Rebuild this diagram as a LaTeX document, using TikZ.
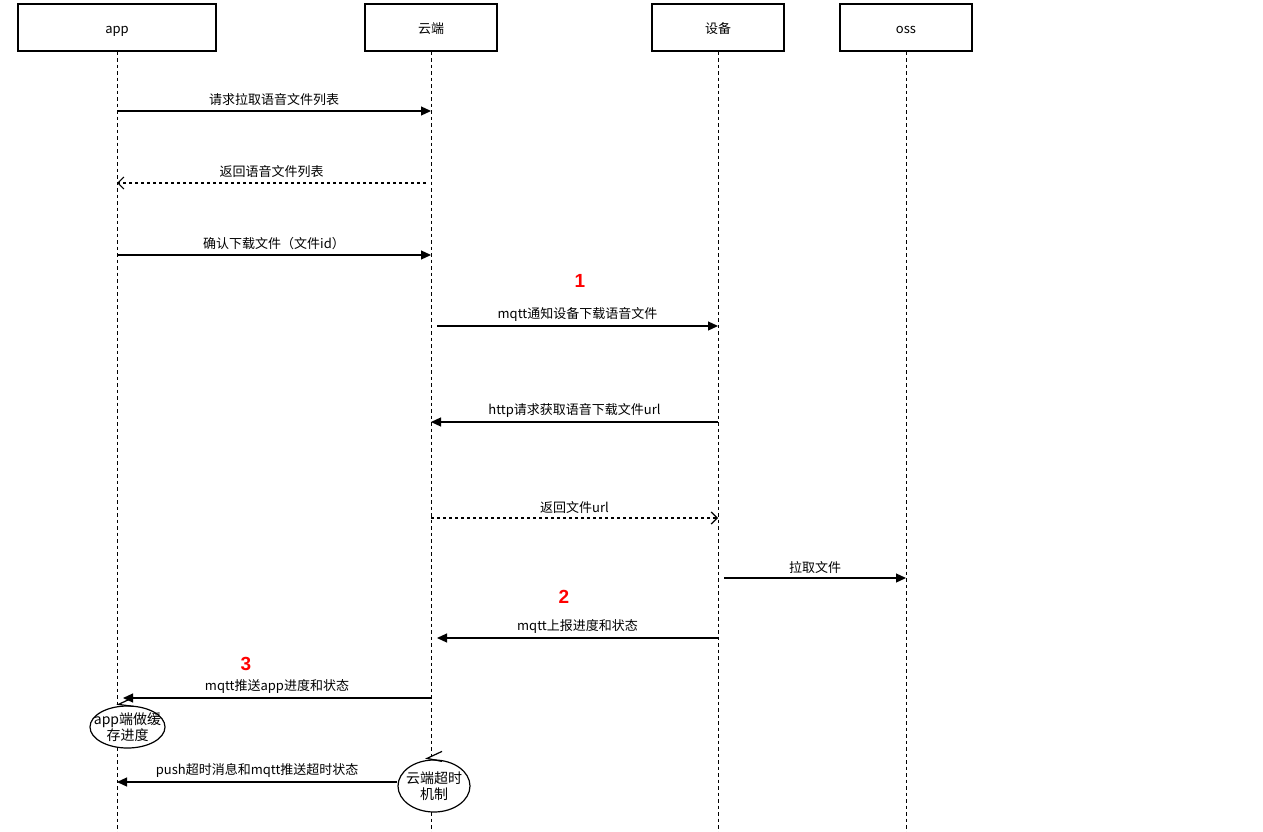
\documentclass[tikz,border=0pt]{standalone}
\usepackage{fontspec}
\newfontfamily\cjk{Noto Sans CJK SC}
\newfontfamily\badgefont{Liberation Sans Bold}
\usetikzlibrary{arrows.meta,shapes.geometric}
\begin{document}
\begin{tikzpicture}[x=1pt,y=-1pt,line width=1.2pt,
  font=\cjk\fontsize{13}{15}\selectfont,
  head/.style={draw,minimum width=132pt,minimum height=47pt,inner sep=0pt,text height=12pt,text depth=0pt},
  life/.style={line width=1pt,dash pattern=on 3.5pt off 3pt},
  msg/.style={-{Triangle[length=10pt,width=9pt]}},
  reply/.style={-{Straight Barb[length=6pt,width=12pt]},dash pattern=on 3pt off 3pt},
  ctrl/.style={draw,fill=white,ellipse,inner sep=0pt},
  ctrltext/.style={align=center,inner sep=0pt,font=\cjk\fontsize{14}{16}\selectfont},
  badge/.style={text=red,font=\badgefont\fontsize{19}{19}\selectfont},
  lbl/.style={midway,above=1pt}]
  \useasboundingbox (0,0) rectangle (1263,832);
  % lifelines
  \node[head,minimum width=198pt] (app) at (117,27.5) {app};
  \node[head] (cloud) at (431,27.5) {云端};
  \node[head] (dev) at (718,27.5) {设备};
  \node[head] (oss) at (906,27.5) {oss};
  \foreach \n in {app,cloud,dev,oss}
    \draw[life] (\n.south) -- (\n.south |- 0,832);
  % messages
  \draw[msg] (app.south |- 0,111) -- (cloud.south |- 0,111) node[lbl] {请求拉取语音文件列表};
  \draw[reply] ([xshift=-5pt]cloud.south |- 0,183) -- (app.south |- 0,183) node[lbl] {返回语音文件列表};
  \draw[msg] (app.south |- 0,255) -- (cloud.south |- 0,255) node[lbl] {确认下载文件（文件id）};
  \node[badge] (b1) at (580,281) {1};
  \draw[msg] ([xshift=6pt]cloud.south |- 0,326) -- (dev.south |- 0,326) node[lbl] {mqtt通知设备下载语音文件};
  \draw[msg] (dev.south |- 0,422) -- (cloud.south |- 0,422) node[lbl] {http请求获取语音下载文件url};
  \draw[reply] (cloud.south |- 0,518) -- (dev.south |- 0,518) node[lbl] {返回文件url};
  \draw[msg] ([xshift=6pt]dev.south |- 0,578) -- (oss.south |- 0,578) node[lbl] {拉取文件};
  \node[badge] (b2) at (564,597) {2};
  \draw[msg] (dev.south |- 0,638) -- ([xshift=6pt]cloud.south |- 0,638) node[lbl] {mqtt上报进度和状态};
  \node[badge] (b3) at (246,664) {3};
  % controls
  \node[ctrl,minimum width=75pt,minimum height=42pt] (cache) at (127.5,727) {};
  \node[ctrltext] at (cache) {app端做缓\\存进度};
  \draw (cache.north) ++(6,-8) -- ++(-15,7) -- ++(15,2);
  \draw[msg] (cloud.south |- 0,698) -- ([xshift=6pt]app.south |- 0,698) node[lbl] {mqtt推送app进度和状态};
  \node[ctrl,minimum width=72pt,minimum height=52pt] (timeout) at (434,786) {};
  \node[ctrltext] at (timeout) {云端超时\\机制};
  \draw (timeout.north) ++(8,-8) -- ++(-15,7) -- ++(15,3);
  \draw[msg] (timeout.west |- 0,782) -- (app.south |- 0,782) node[lbl] {push超时消息和mqtt推送超时状态};
\end{tikzpicture}
\end{document}
